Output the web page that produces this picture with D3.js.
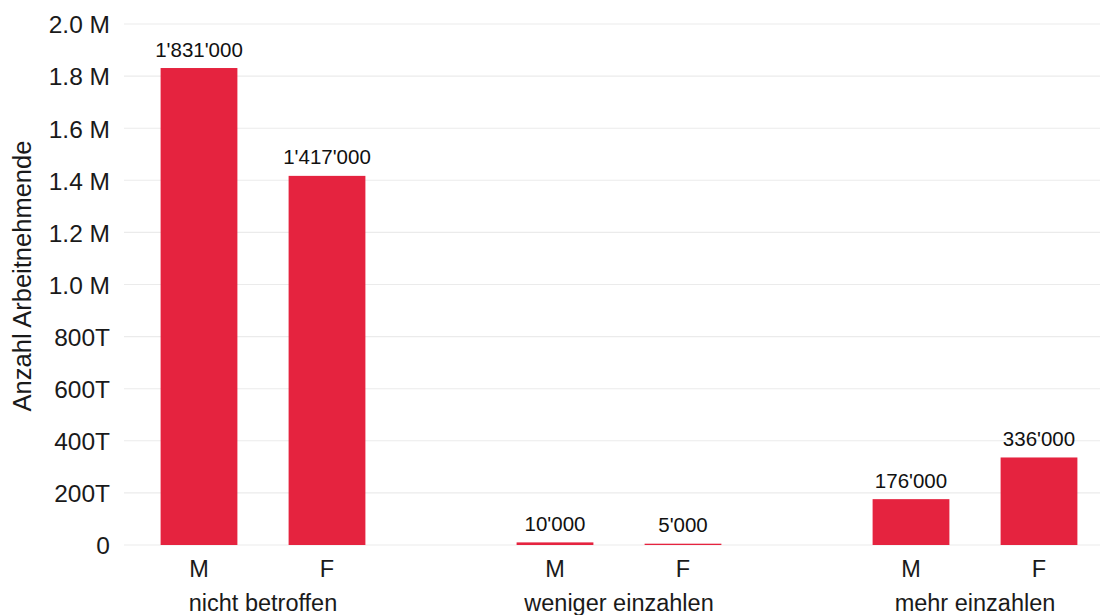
<!DOCTYPE html>
<html>
<head>
<meta charset="utf-8">
<script src="https://cdn.jsdelivr.net/npm/d3@7"></script>
<style>
  html, body { margin: 0; padding: 0; background: #fff; }
  svg { display: block; font-family: "Liberation Sans", Arial, sans-serif; }
</style>
</head>
<body>
<svg id="chart" width="1100" height="615"></svg>
<script>
// Workers by contribution effect, split by sex
const groups = ["nicht betroffen", "weniger einzahlen", "mehr einzahlen"];
const sexes = ["M", "F"];
const valuesM = [1831000, 10000, 176000];
const valuesF = [1417000, 5000, 336000];
const yTicks = [0, 200000, 400000, 600000, 800000, 1000000, 1200000, 1400000, 1600000, 1800000, 2000000];
const yTickLabels = ["0", "200T", "400T", "600T", "800T", "1.0 M", "1.2 M", "1.4 M", "1.6 M", "1.8 M", "2.0 M"];
const yTitle = "Anzahl Arbeitnehmende";

const rows = [];
groups.forEach((g, i) => {
  rows.push({ group: g, sex: "M", value: valuesM[i] });
  rows.push({ group: g, sex: "F", value: valuesF[i] });
});

const svg = d3.select("#chart");
const plotLeft = 124, plotRight = 1100, plotTop = 24, plotBottom = 545;
const barColor = "#e5233f";
const textColor = "#1a1a1a";
const fontFamily = "Liberation Sans, Arial, sans-serif";

const y = d3.scaleLinear().domain([0, 2000000]).range([plotBottom, plotTop]);

const xGroup = d3.scaleBand().domain(groups).range([85, 1153]).padding(0);
const xSex = d3.scaleBand().domain(sexes)
  .range([50, xGroup.bandwidth() - 50])
  .paddingInner(0.4).paddingOuter(0.2);

const fmt = d3.formatLocale({ decimal: ".", thousands: "'", grouping: [3], currency: ["", ""] }).format(",d");

// horizontal gridlines
svg.append("g")
  .selectAll("line")
  .data(yTicks)
  .join("line")
  .attr("x1", plotLeft).attr("x2", plotRight)
  .attr("y1", d => y(d)).attr("y2", d => y(d))
  .attr("stroke", "#ebebeb").attr("stroke-width", 1.1);

// y axis labels
const yAxis = d3.axisLeft(y).tickValues(yTicks)
  .tickFormat((d, i) => yTickLabels[i]).tickSize(0).tickPadding(0);
const yg = svg.append("g").attr("transform", `translate(110,0)`).call(yAxis);
yg.select(".domain").remove();
yg.attr("font-family", fontFamily).attr("font-size", 24.5);
yg.selectAll("text").attr("fill", textColor).attr("dy", "0.36em");

// y axis title
svg.append("text")
  .attr("transform", `translate(31,276) rotate(-90)`)
  .attr("text-anchor", "middle")
  .attr("font-size", 25.5).attr("fill", textColor)
  .text(yTitle);

// bars
svg.append("g")
  .selectAll("rect")
  .data(rows)
  .join("rect")
  .attr("x", d => xGroup(d.group) + xSex(d.sex))
  .attr("width", xSex.bandwidth())
  .attr("y", d => y(d.value))
  .attr("height", d => y(0) - y(d.value))
  .attr("fill", barColor);

// value labels
svg.append("g")
  .selectAll("text")
  .data(rows)
  .join("text")
  .attr("x", d => xGroup(d.group) + xSex(d.sex) + xSex.bandwidth() / 2)
  .attr("y", d => y(d.value) - 11.5)
  .attr("text-anchor", "middle")
  .attr("font-size", 20.5).attr("fill", "#111")
  .text(d => fmt(d.value));

// sex labels under bars
svg.append("g")
  .selectAll("text")
  .data(rows)
  .join("text")
  .attr("x", d => xGroup(d.group) + xSex(d.sex) + xSex.bandwidth() / 2)
  .attr("y", 577)
  .attr("text-anchor", "middle")
  .attr("font-size", 23.5).attr("fill", textColor)
  .text(d => d.sex);

// group labels
svg.append("g")
  .selectAll("text")
  .data(groups)
  .join("text")
  .attr("x", d => xGroup(d) + xGroup.bandwidth() / 2)
  .attr("y", 611)
  .attr("text-anchor", "middle")
  .attr("font-size", 23.5).attr("fill", textColor)
  .text(d => d);
</script>
</body>
</html>
